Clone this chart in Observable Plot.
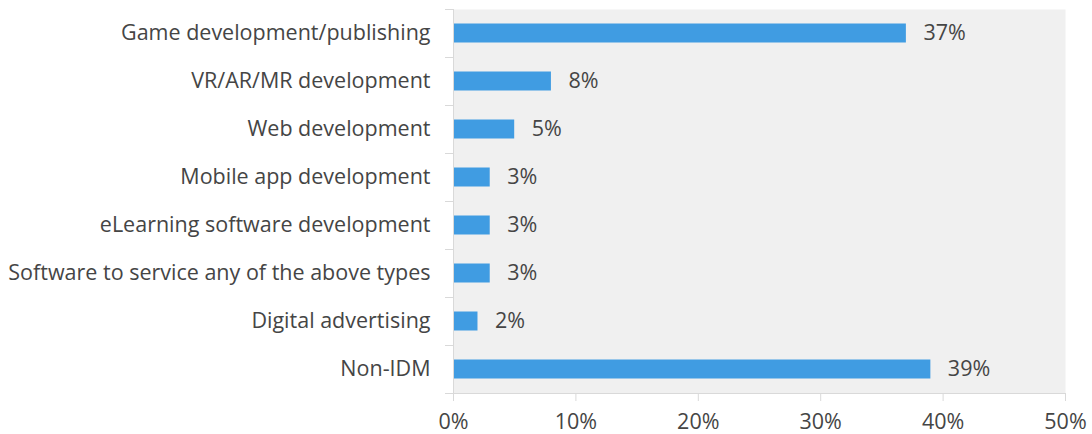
<!DOCTYPE html>
<html>
<head>
<meta charset="utf-8">
<script src="https://cdn.jsdelivr.net/npm/d3@7"></script>
<script src="https://cdn.jsdelivr.net/npm/@observablehq/plot@0.6"></script>
<style>
  html, body { margin: 0; padding: 0; background: #ffffff; }
</style>
</head>
<body>
<div id="chart"></div>
<script>
const categories = [
  "Game development/publishing",
  "VR/AR/MR development",
  "Web development",
  "Mobile app development",
  "eLearning software development",
  "Software to service any of the above types",
  "Digital advertising",
  "Non-IDM"
];
const values = [37, 8, 5, 3, 3, 3, 2, 39];
const xTicks = [0, 10, 20, 30, 40, 50];

const data = categories.map((c, i) => ({category: c, value: values[i]}));
const pct = d => d + "%";
const gridColor = "#d9d9d9";
const textColor = "#454545";

const chart = Plot.plot({
  width: 1092,
  height: 434,
  marginLeft: 453,
  marginRight: 27,
  marginTop: 9,
  marginBottom: 41,
  style: {fontFamily: "'Open Sans', sans-serif", fontSize: "21.5px", color: textColor, background: "#ffffff"},
  x: {domain: [0, 50], ticks: xTicks, tickFormat: pct},
  y: {domain: categories, padding: 0},
  marks: [
    Plot.frame({fill: "#f0f0f0", stroke: "none"}),
    Plot.barX(data, {x: "value", y: "category", fill: "#409ce2", insetTop: 14.5, insetBottom: 14.5}),
    Plot.text(data, {x: "value", y: "category", text: d => pct(d.value), textAnchor: "start", dx: 17, fill: textColor, fontSize: 21.5}),
    Plot.axisX({ticks: xTicks, tickFormat: pct, tickSize: 8, tickPadding: 12, stroke: gridColor, fill: textColor, label: null}),
    Plot.axisY({tickSize: 0, tickPadding: 23, fill: textColor, label: null}),
    Plot.axisY({tickSize: 8, dy: -24, stroke: gridColor, fill: "none", label: null}),
    Plot.axisY({ticks: [categories[categories.length - 1]], tickSize: 8, dy: 24, stroke: gridColor, fill: "none", label: null}),
    Plot.frame({anchor: "left", stroke: gridColor}),
    Plot.frame({anchor: "bottom", stroke: gridColor})
  ]
});
document.getElementById("chart").appendChild(chart);
</script>
</body>
</html>
